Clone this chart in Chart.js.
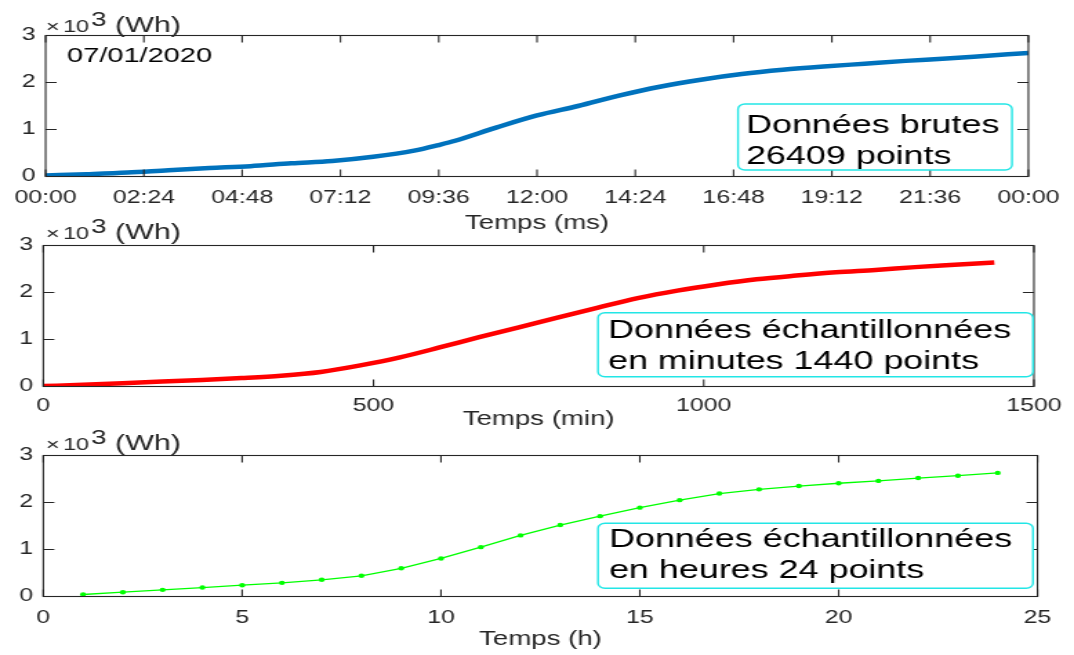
<!DOCTYPE html>
<html>
<head>
<meta charset="utf-8">
<title>Energie cumulée 07/01/2020</title>
<script src="https://cdn.jsdelivr.net/npm/chart.js@4.4.1/dist/chart.umd.min.js"></script>
<style>
  html, body { margin: 0; padding: 0; background: #fff; width: 1074px; height: 655px; overflow: hidden; }
  canvas { position: absolute; left: 0; }
</style>
</head>
<body>
<canvas id="c1" width="778" height="235" style="top:0px;width:1074px;height:235px"></canvas>
<canvas id="c2" width="778" height="235" style="top:210px;width:1074px;height:235px"></canvas>
<canvas id="c3" width="778" height="235" style="top:420px;width:1074px;height:235px"></canvas>
<script>
'use strict';

//****************************************
//          DATA
//****************************************

// panel 1 : raw data, time of day in minutes, energy in Wh
const rawMinutes = [0, 60, 120, 180, 240, 300, 360, 420, 480, 540, 576, 600, 660, 720,
  780, 840, 900, 960, 1020, 1080, 1140, 1200, 1260, 1320, 1380, 1440];
const rawWh = [20, 50, 85, 135, 180, 220, 280, 330, 420, 550, 670, 760, 1040, 1300,
  1500, 1720, 1910, 2060, 2180, 2270, 2340, 2400, 2460, 2510, 2570, 2630];

// panel 2 : sampled per minute
const minuteTimes = [0, 60, 120, 180, 240, 300, 360, 420, 480, 540, 600, 660, 720,
  780, 840, 900, 960, 1020, 1080, 1140, 1200, 1260, 1320, 1380, 1440];
const minuteWh = [10, 35, 70, 105, 140, 180, 230, 310, 450, 620, 830, 1050, 1260,
  1470, 1680, 1880, 2040, 2170, 2280, 2360, 2430, 2480, 2540, 2590, 2640];

// panel 3 : sampled per hour
const hours = [1, 2, 3, 4, 5, 6, 7, 8, 9, 10, 11, 12, 13, 14, 15, 16, 17, 18, 19, 20, 21, 22, 23, 24];
const hourlyWh = [43, 92, 142, 190, 240, 290, 355, 440, 600, 810, 1050, 1300,
  1520, 1710, 1890, 2050, 2190, 2280, 2350, 2410, 2460, 2520, 2570, 2630];

const yTicksWh = [0, 1000, 2000, 3000];
const dateLabel = '07/01/2020';

//****************************************
//            HELPERS
//****************************************

// the canvases are drawn 778 wide and stretched to 1074 like the original figure
const S = 1074 / 778;
const sx = px => px / S;

const FONT = "'Liberation Sans', Arial, Helvetica, sans-serif";
const AXIS = '#262626';
const AREA_TOP = 35.5;
const AREA_BOTTOM = 176.5;

function hhmm(v) {
  const m = Math.round(v) % 1440;
  const h = Math.floor(m / 60), mm = m % 60;
  return String(h).padStart(2, '0') + ':' + String(mm).padStart(2, '0');
}

function roundBox(ctx, x, y, w, h, r) {
  ctx.beginPath();
  ctx.moveTo(x + r, y);
  ctx.arcTo(x + w, y, x + w, y + h, r);
  ctx.arcTo(x + w, y + h, x, y + h, r);
  ctx.arcTo(x, y + h, x, y, r);
  ctx.arcTo(x, y, x + w, y, r);
  ctx.closePath();
}

// box, inner ticks, exponent label and text boxes (MATLAB look)
function framePlugin(p) {
  return {
    id: 'frame_' + p.id,
    afterDraw(chart) {
      const ctx = chart.ctx, a = chart.chartArea;
      const xs = chart.scales.x, ys = chart.scales.y;
      ctx.save();
      ctx.strokeStyle = AXIS;
      ctx.lineWidth = 1.1;
      ctx.strokeRect(a.left, a.top, a.right - a.left, a.bottom - a.top);
      ctx.beginPath();
      xs.ticks.forEach(t => {
        const x = xs.getPixelForValue(t.value);
        ctx.moveTo(x, a.bottom); ctx.lineTo(x, a.bottom - 7);
        ctx.moveTo(x, a.top); ctx.lineTo(x, a.top + 7);
      });
      ys.ticks.forEach(t => {
        const y = ys.getPixelForValue(t.value);
        ctx.moveTo(a.left, y); ctx.lineTo(a.left + 8, y);
        ctx.moveTo(a.right, y); ctx.lineTo(a.right - 8, y);
      });
      ctx.stroke();

      // x10^3 (Wh)
      const base = a.top - p.expoGap;
      ctx.fillStyle = AXIS;
      ctx.textBaseline = 'alphabetic';
      ctx.textAlign = 'left';
      ctx.font = '17px ' + FONT;
      ctx.fillText('×', sx(46), base);
      ctx.fillText('10', sx(63), base);
      ctx.font = '20px ' + FONT;
      ctx.fillText('3', sx(91), base - 6);
      ctx.font = '22px ' + FONT;
      ctx.fillText('(Wh)', sx(115), base);

      if (p.date) {
        ctx.fillStyle = '#000';
        ctx.font = '21px ' + FONT;
        ctx.fillText(p.date, sx(67), 62);
      }

      // annotation box
      const b = p.box;
      roundBox(ctx, sx(b.left), b.top, sx(b.right) - sx(b.left), b.bottom - b.top, 5);
      ctx.fillStyle = '#fff';
      ctx.fill();
      ctx.strokeStyle = '#22e6e6';
      ctx.lineWidth = 1.4;
      ctx.stroke();
      ctx.fillStyle = '#000';
      ctx.font = '26px ' + FONT;
      b.lines.forEach((txt, i) => ctx.fillText(txt, sx(b.textLeft), b.base[i]));
      ctx.restore();
    }
  };
}

function makeChart(p) {
  new Chart(document.getElementById(p.id), {
    type: 'line',
    data: { datasets: [p.dataset] },
    options: {
      responsive: false,
      animation: false,
      events: [],
      layout: { padding: { top: AREA_TOP, right: sx(1074 - 1037.5), left: 0, bottom: 0 } },
      plugins: { legend: { display: false }, tooltip: { enabled: false } },
      scales: {
        x: {
          type: 'linear',
          min: p.xMin, max: p.xMax,
          grid: { display: false, drawTicks: false },
          border: { display: false },
          ticks: {
            stepSize: p.xStep,
            color: AXIS,
            padding: p.tickPad,
            maxRotation: 0,
            autoSkip: false,
            font: { family: FONT, size: 18 },
            callback: p.xFormat
          },
          title: {
            display: true,
            text: p.xTitle,
            color: AXIS,
            padding: { top: 0, bottom: p.titlePad },
            font: { family: FONT, size: 20 }
          },
          afterFit(scale) { scale.height = 235 - AREA_BOTTOM; }
        },
        y: {
          min: 0, max: 3000,
          afterBuildTicks(scale) { scale.ticks = yTicksWh.map(v => ({ value: v })); },
          grid: { display: false, drawTicks: false },
          border: { display: false },
          ticks: {
            color: AXIS,
            padding: 7.3,
            font: { family: FONT, size: 18 },
            callback: v => String(v / 1000)
          },
          afterFit(scale) { scale.width = sx(43.3); }
        }
      }
    },
    plugins: [framePlugin(p)]
  });
}

//****************************************
//            CHARTS
//****************************************

makeChart({
  id: 'c1',
  xMin: 0, xMax: 1440, xStep: 144,
  xFormat: v => hhmm(v),
  xTitle: 'Temps (ms)',
  tickPad: 10.5, titlePad: 0, expoGap: 4,
  date: dateLabel,
  dataset: {
    data: rawMinutes.map((m, i) => ({ x: m, y: rawWh[i] })),
    borderColor: '#0072BD', borderWidth: 4.5,
    pointRadius: 0, cubicInterpolationMode: 'monotone'
  },
  box: { left: 738, right: 1012, top: 104, bottom: 170, textLeft: 746,
    base: [133.3, 164], lines: ['Données brutes', '26409 points'] }
});

makeChart({
  id: 'c2',
  xMin: 0, xMax: 1500, xStep: 500,
  xFormat: v => String(v),
  xTitle: 'Temps (min)',
  tickPad: 9, titlePad: 14, expoGap: 7,
  dataset: {
    data: minuteTimes.map((m, i) => ({ x: m, y: minuteWh[i] })),
    borderColor: '#FF0000', borderWidth: 4.5,
    pointRadius: 0, cubicInterpolationMode: 'monotone'
  },
  box: { left: 598, right: 1033, top: 312.7 - 210, bottom: 376.7 - 210, textLeft: 608,
    base: [338.3 - 210, 369.3 - 210], lines: ['Données échantillonnées', 'en minutes 1440 points'] }
});

makeChart({
  id: 'c3',
  xMin: 0, xMax: 25, xStep: 5,
  xFormat: v => String(v),
  xTitle: 'Temps (h)',
  tickPad: 10.5, titlePad: 3.3, expoGap: 6,
  dataset: {
    data: hours.map((h, i) => ({ x: h, y: hourlyWh[i] })),
    borderColor: '#00FF00', borderWidth: 1.3,
    pointRadius: 2.2, pointBackgroundColor: '#00FF00', pointBorderWidth: 0,
    tension: 0
  },
  box: { left: 598, right: 1033, top: 523.3 - 420, bottom: 588.3 - 420, textLeft: 609,
    base: [547.3 - 420, 578.3 - 420], lines: ['Données échantillonnées', 'en heures 24 points'] }
});
</script>
</body>
</html>
